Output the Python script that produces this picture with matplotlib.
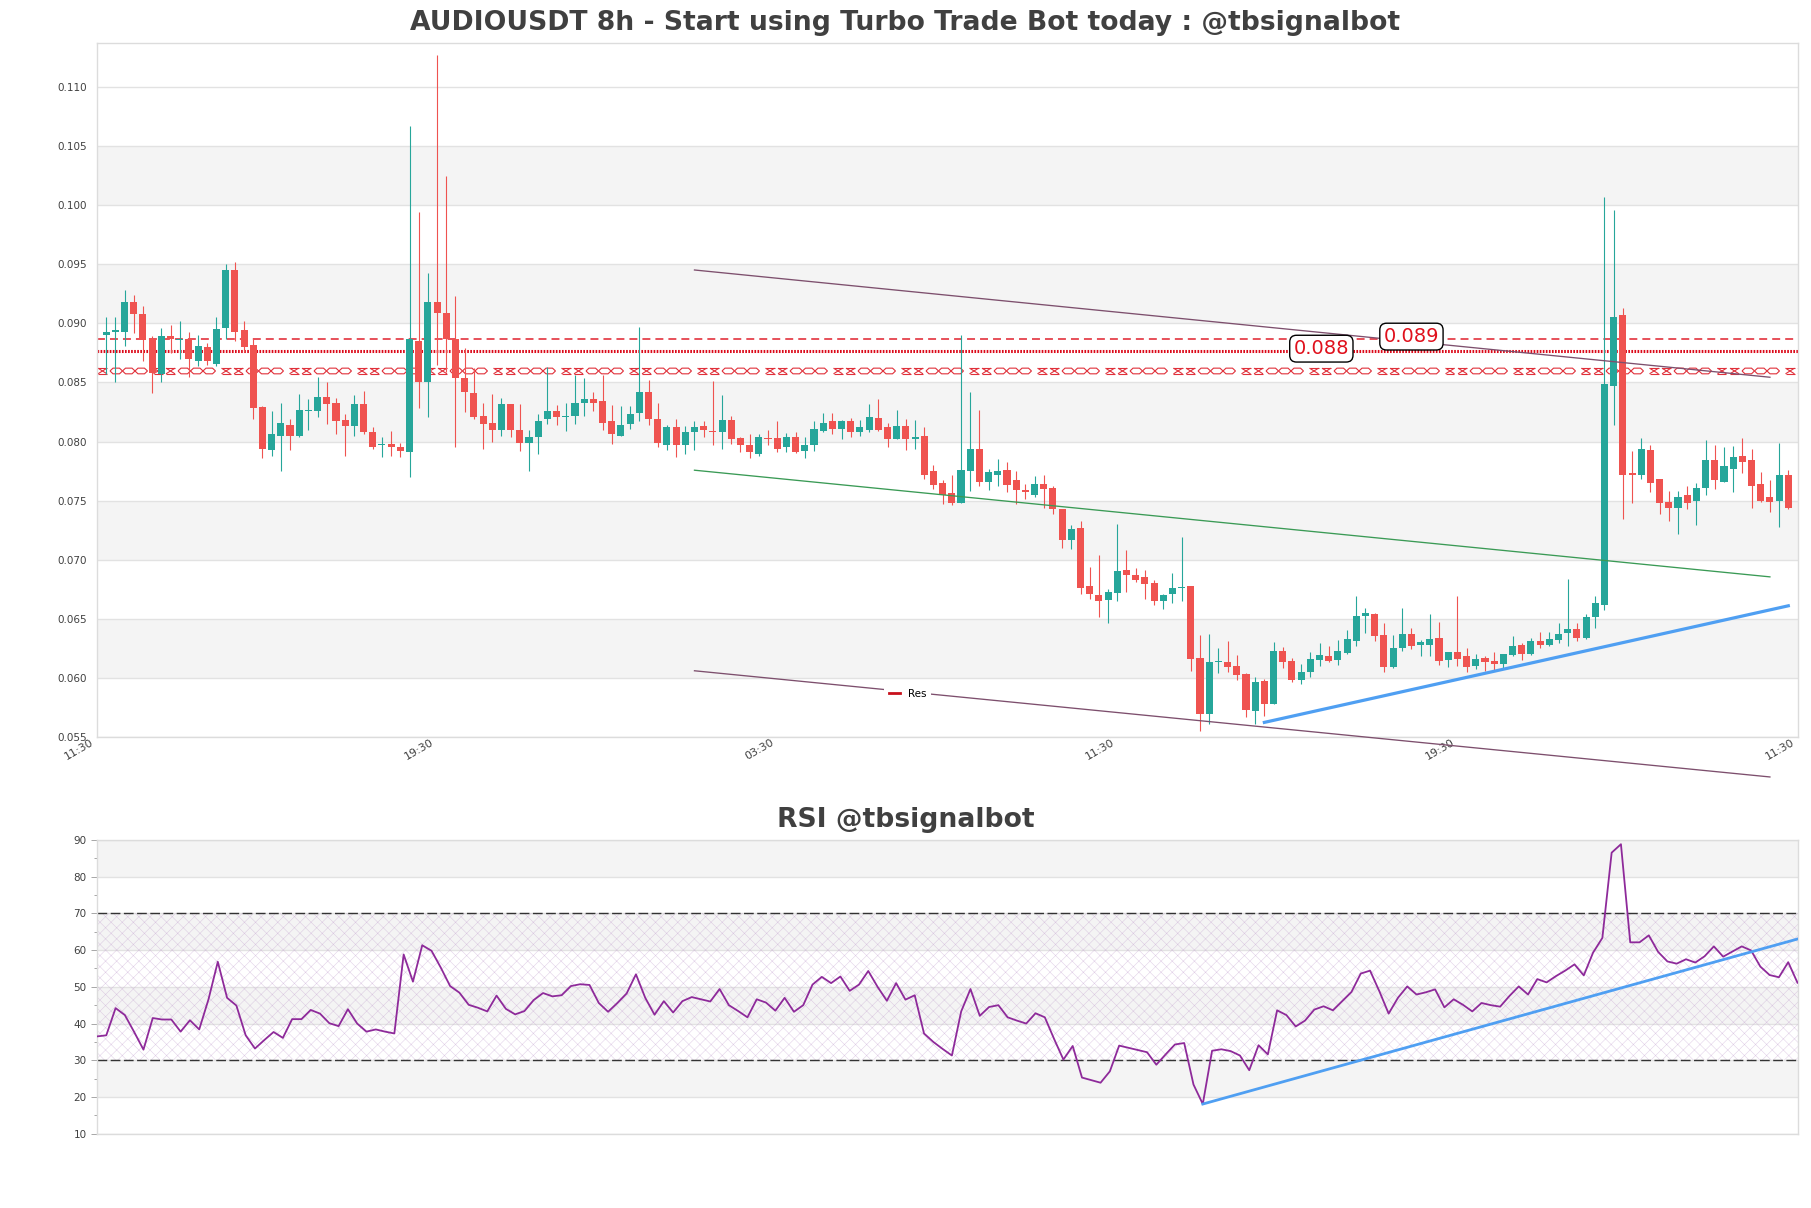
import matplotlib
matplotlib.use("Agg")
import matplotlib.pyplot as plt
from matplotlib.patches import Rectangle
from matplotlib.lines import Line2D
from matplotlib.collections import LineCollection
from matplotlib.transforms import ScaledTranslation
import numpy as np

# OHLC in ten-thousandths of USDT (tick size 0.0001)
opens = [890,893,893,918,908,887,857,889,886,887,868,880,866,896,945,894,882,829,793,805,
         814,805,826,826,838,833,818,813,832,808,797,798,795,791,885,850,918,909,887,854,
         841,822,816,810,832,810,799,804,819,826,821,822,833,836,834,817,805,815,824,842,
         819,797,812,797,808,813,809,808,818,803,797,789,803,803,795,804,792,797,809,817,
         811,817,808,810,820,812,802,813,802,805,775,765,756,748,775,794,766,772,776,767,
         759,755,764,761,743,717,727,678,670,666,672,691,687,685,680,665,671,676,678,617,
         569,613,613,610,603,572,597,578,623,614,598,605,615,618,615,621,631,652,654,636,
         609,625,637,628,628,634,615,622,618,610,617,614,612,619,628,620,631,628,632,638,
         641,634,651,662,847,907,773,772,793,768,749,744,755,750,761,784,766,777,788,784,
         764,753,750,772]
closes = [893,894,918,908,886,858,889,887,887,870,881,868,895,945,893,880,828,794,806,816,
          805,827,827,838,832,817,813,832,808,795,798,795,792,887,850,918,909,887,854,842,
          821,815,810,832,810,799,804,817,826,821,822,833,836,833,816,806,814,823,842,819,
          799,812,797,808,812,810,808,818,802,797,791,804,802,794,804,791,797,811,816,811,
          817,808,812,821,810,802,813,802,804,772,763,755,748,776,794,766,774,775,763,759,
          757,764,760,743,717,726,676,671,665,673,690,687,683,679,665,670,676,677,616,569,
          613,614,609,602,573,596,578,623,613,598,605,616,619,614,623,633,652,655,635,609,
          625,637,627,630,633,614,622,616,609,616,613,612,620,627,620,631,628,633,637,641,
          634,651,663,849,905,772,772,794,765,748,744,753,748,761,784,767,779,787,783,762,
          750,749,772,744]
highs = [905,905,928,924,915,889,896,899,902,893,890,883,905,950,952,902,888,830,826,833,
         819,840,836,855,850,837,823,839,843,812,804,809,799,1067,994,943,1127,1025,923,879,
         862,833,840,837,832,832,810,823,863,831,833,856,854,842,856,831,830,830,897,852,
         833,814,819,813,817,817,851,839,822,804,806,806,810,817,807,808,804,817,824,824,
         818,820,818,832,836,816,827,819,818,812,780,767,772,890,842,827,777,785,783,775,
         764,771,772,762,743,729,733,694,704,675,730,708,693,691,683,671,689,719,678,636,
         637,625,631,619,604,601,599,630,626,617,612,622,629,627,632,640,669,659,655,646,
         636,659,642,632,654,647,622,669,625,620,618,622,620,635,629,634,639,639,646,684,
         646,654,669,1007,996,913,792,803,797,768,758,758,762,765,801,797,795,796,803,794,
         774,767,799,776]
lows = [857,850,881,892,868,841,850,875,870,855,864,865,864,887,885,876,819,786,788,775,
        793,804,810,821,815,806,788,805,806,794,787,788,787,770,828,821,865,859,795,825,
        819,794,800,805,804,792,775,789,815,814,809,815,822,826,810,798,805,811,817,814,
        795,793,787,789,793,804,797,794,798,791,786,788,797,791,791,790,786,792,808,806,
        802,804,805,808,809,795,802,793,794,768,760,747,746,748,758,762,759,762,757,747,
        751,753,744,739,710,709,671,667,651,646,665,673,681,667,662,658,663,665,606,555,
        561,604,605,598,567,561,568,578,608,596,595,601,610,613,611,620,627,638,631,605,
        608,623,624,618,618,611,609,610,605,607,606,606,608,618,615,619,625,627,629,627,
        631,633,642,657,814,734,748,768,757,739,733,722,743,729,755,760,766,757,773,744,
        749,740,728,743]
rsi_values = [36.5,36.8,44.2,42.3,37.7,32.9,41.5,41.1,41.1,37.8,40.9,38.4,46.6,56.8,47.0,44.9,36.8,33.2,35.5,37.7,
              36.1,41.2,41.2,43.7,42.7,40.1,39.3,43.9,40.0,37.8,38.4,37.8,37.3,58.8,51.4,61.3,59.8,55.2,50.2,48.4,
              45.1,44.3,43.3,47.6,44.0,42.5,43.4,46.4,48.3,47.4,47.7,50.2,50.7,50.5,45.6,43.2,45.6,48.2,53.4,47.0,
              42.4,46.1,43.0,46.1,47.2,46.6,46.0,49.4,45.0,43.4,41.7,46.6,45.7,43.5,47.0,43.2,45.0,50.6,52.7,51.0,
              52.8,48.9,50.6,54.3,50.0,46.2,51.0,46.5,47.7,37.3,35.0,33.1,31.3,43.3,49.4,42.1,44.5,45.0,41.7,40.8,
              40.0,42.8,41.7,35.8,30.2,33.9,25.3,24.6,23.9,27.0,34.0,33.4,32.8,32.2,28.8,31.6,34.3,34.7,23.4,18.1,
              32.6,33.0,32.5,31.3,27.3,34.1,31.6,43.6,42.3,39.2,40.8,43.8,44.7,43.6,46.1,48.6,53.6,54.4,48.8,42.7,
              47.0,50.1,47.9,48.5,49.3,44.4,46.6,45.1,43.3,45.6,45.0,44.6,47.5,50.1,47.9,52.1,51.2,52.9,54.4,56.1,
              53.1,59.3,63.3,86.5,88.8,62.1,62.1,64.0,59.5,56.9,56.3,57.5,56.6,58.3,61.0,58.2,59.6,61.0,59.9,55.5,
              53.2,52.6,56.7,51.1]
time_labels = ["11:30", "19:30", "03:30", "11:30", "19:30", "11:30"]
price_ticks = [0.055, 0.060, 0.065, 0.070, 0.075, 0.080, 0.085, 0.090, 0.095, 0.100, 0.105, 0.110]
rsi_ticks = [10, 20, 30, 40, 50, 60, 70, 80, 90]
res_levels = [0.08868, 0.08766]
res_band = [0.08573, 0.08621]
channel_x = [64, 181]
channel_upper = [0.09452, 0.08544]
channel_middle = [0.07757, 0.06854]
channel_lower = [0.06059, 0.05160]
price_trend_x = [126, 183]
price_trend_y = [0.05622, 0.06609]
rsi_trend_x = [119, 183]
rsi_trend_y = [18.1, 63.0]

GREEN, RED = "#26a69a", "#ef5350"
GRID, BAND, TXT = "#e2e2e2", "#f4f4f4", "#404040"
W, H = 1811, 1208
plt.rcParams["hatch.linewidth"] = 0.35
fig = plt.figure(figsize=(W / 100, H / 100), dpi=100, facecolor="white")

def axes_px(left, right, top, bottom):
    return fig.add_axes([left / W, 1 - bottom / H, (right - left) / W, (bottom - top) / H])

LEFT, RIGHT = 97.0, 1797.5
ax = axes_px(LEFT, RIGHT, 43.2, 736.8)
ax2 = axes_px(LEFT, RIGHT, 839.8, 1133.8)
for a in (ax, ax2):
    a.set_facecolor("white")
    for s in a.spines.values():
        s.set_color("#dcdcdc")
        s.set_linewidth(1.0)
    a.tick_params(colors=TXT, labelsize=7.5, length=3, width=0.6, color="#999999")

# ---- price panel ----
ax.set_xlim(-1, 184)
ax.set_ylim(0.055, 0.11372)
for lo in price_ticks[1::2][:5]:
    ax.axhspan(lo, lo + 0.005, color=BAND, lw=0, zorder=0)
for t in price_ticks:
    ax.axhline(t, color=GRID, lw=1.0, zorder=0.5)
ax.set_yticks(price_ticks)
ax.set_yticklabels([f"{t:.3f}" for t in price_ticks])
xt = np.linspace(-1, 184, 6)
ax.set_xticks(xt)
ax.set_xticklabels(time_labels, rotation=30, ha="right", fontsize=8)
ax.tick_params(axis="x", length=0, pad=0)
ax.tick_params(axis="y", length=0, pad=7)
shift = ScaledTranslation(-1.5 / 100, 0, fig.dpi_scale_trans)
for lab in ax.get_xticklabels():
    lab.set_transform(lab.get_transform() + shift)

# levels
ax.axhline(res_levels[0], color="#e0202c", lw=1.1, dashes=(5.2, 3.3), zorder=2)
ax.axhline(res_levels[1], color="#dc0a1a", lw=2.2, dashes=(0.55, 0.45), zorder=2)

# hatched resistance band: the crossing pattern is a drawing style only
px_per_x = (RIGHT - LEFT) / 185
def bx(px):
    return (px - LEFT) / px_per_x - 1
ytop, ybot = res_band[1], res_band[0]
ym = (ytop + ybot) / 2
segs = []
for start in np.arange(90.0, RIGHT, 68.0):
    for off in (0, 12.5):
        a0, a1 = bx(start + off - 4.5), bx(start + off + 4.5)
        segs += [[(a0, ytop), (a1, ytop)], [(a0, ybot), (a1, ybot)],
                 [(a0, ytop), (a1, ybot)], [(a0, ybot), (a1, ytop)]]
    for c0, c1 in ((20, 32.5), (32.5, 45), (45, 57.5)):
        a0, am0, am1, a1 = bx(start + c0), bx(start + c0 + 3), bx(start + c1 - 3), bx(start + c1)
        segs += [[(a0, ym), (am0, ytop), (am1, ytop), (a1, ym)],
                 [(a0, ym), (am0, ybot), (am1, ybot), (a1, ym)]]
ax.add_collection(LineCollection(segs, colors="#e0303a", linewidths=0.8, zorder=2))

# candles
for i, (o, h, l, c) in enumerate(zip(opens, highs, lows, closes)):
    col = GREEN if c > o else RED
    ax.plot([i, i], [l / 1e4, h / 1e4], color=col, lw=0.8, zorder=3, solid_capstyle="butt")
    ax.add_patch(Rectangle((i - 0.385, min(o, c) / 1e4), 0.77, max(abs(c - o), 1) / 1e4,
                           facecolor=col, edgecolor="none", zorder=3.5))

# channel
purple = "#7d4f6d"
ax.plot(channel_x, channel_upper, color=purple, lw=0.95, zorder=4)
ax.plot(channel_x, channel_lower, color=purple, lw=0.95, zorder=4, clip_on=False)
ax.plot(channel_x, channel_middle, color="#3a9a55", lw=0.95, zorder=4)
ax.plot(price_trend_x, price_trend_y, color="#4f9ff2", lw=2.3, zorder=4.5)

bbox = dict(boxstyle="round,pad=0.2,rounding_size=0.35", fc="white", ec="black", lw=1.0)
ax.text(142, 0.08888, "0.089", color="#e0101c", fontsize=14, ha="center", va="center", bbox=bbox, zorder=6)
ax.text(132.2, 0.08786, "0.088", color="#e0101c", fontsize=14, ha="center", va="center", bbox=bbox, zorder=6)

leg = ax.legend(handles=[Line2D([], [], color="#c8101c", lw=2.0, label="Res")], loc="center",
                bbox_to_anchor=(0.4768, 0.0615), fontsize=7.5, frameon=True, framealpha=1,
                facecolor="white", edgecolor="none", handlelength=1.1)
leg.set_zorder(5)

# ---- RSI panel ----
ax2.set_xlim(0, 183)
ax2.set_ylim(10, 90)
for lo in (20, 40, 60, 80):
    ax2.axhspan(lo, lo + 10, color=BAND, lw=0, zorder=0)
for t in rsi_ticks:
    ax2.axhline(t, color=GRID, lw=1.0, zorder=0.5)
ax2.fill_between([0, 183], 30, 70, facecolor="none", edgecolor="#c4a2d0", hatch="xxx", lw=0, alpha=0.55, zorder=1)
ax2.set_yticks(rsi_ticks)
ax2.set_yticks([15, 25, 35, 45, 55, 65, 75, 85], minor=True)
ax2.tick_params(axis="y", which="major", length=4)
ax2.tick_params(axis="y", which="minor", length=2.2, width=0.6, color="#999999")
ax2.set_xticks([])
ax2.axhline(70, color="#333333", lw=1.0, dashes=(7, 2.5), zorder=2)
ax2.axhline(30, color="#333333", lw=1.0, dashes=(7, 2.5), zorder=2)
ax2.plot(range(len(rsi_values)), rsi_values, color="#8e2a9a", lw=1.3, zorder=3)
ax2.plot(rsi_trend_x, rsi_trend_y, color="#4f9ff2", lw=2.0, zorder=4)

fig.text(0.5, 1 - 23 / H, "AUDIOUSDT 8h - Start using Turbo Trade Bot today : @tbsignalbot",
         ha="center", va="center", fontsize=19.2, fontweight="bold", color=TXT)
fig.text(0.5, 1 - 820 / H, "RSI @tbsignalbot", ha="center", va="center", fontsize=19.2,
         fontweight="bold", color=TXT)

for name, seq in dict(o=opens, c=closes, h=highs, l=lows, r=rsi_values).items():
    assert len(seq) == 184, (name, len(seq))

fig.savefig("out.png", dpi=100, facecolor="white")
